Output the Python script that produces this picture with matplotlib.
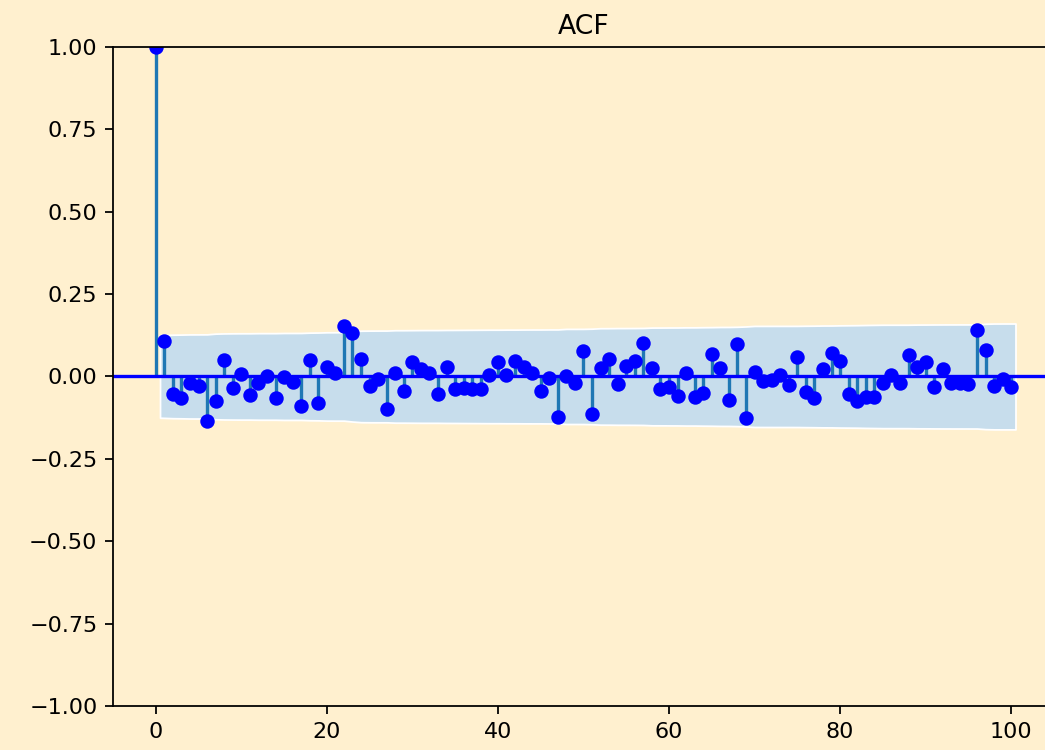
import numpy as np
import matplotlib
matplotlib.use("Agg")
import matplotlib.pyplot as plt

# autocorrelation values, lags 0..100
lags = np.arange(101)
acf_vals = np.array([
    1.000, 0.109, -0.054, -0.066, -0.021, -0.029, -0.134, -0.073, 0.050, -0.034,
    0.008, -0.056, -0.020, 0.000, -0.066, -0.003, -0.018, -0.090, 0.050, -0.081,
    0.030, 0.012, 0.153, 0.131, 0.052, -0.028, -0.009, -0.098, 0.012, -0.043,
    0.045, 0.023, 0.012, -0.053, 0.030, -0.039, -0.036, -0.039, -0.039, 0.005,
    0.045, 0.005, 0.047, 0.030, 0.010, -0.043, -0.005, -0.124, 0.000, -0.019,
    0.076, -0.114, 0.025, 0.053, -0.023, 0.033, 0.048, 0.103, 0.027, -0.039,
    -0.033, -0.059, 0.012, -0.061, -0.049, 0.067, 0.025, -0.071, 0.099, -0.125,
    0.015, -0.013, -0.011, 0.005, -0.026, 0.060, -0.048, -0.066, 0.022, 0.070,
    0.048, -0.054, -0.073, -0.061, -0.061, -0.021, 0.005, -0.021, 0.065, 0.030,
    0.045, -0.033, 0.023, -0.021, -0.021, -0.024, 0.141, 0.080, -0.029, -0.008,
    -0.033,
])
nobs = 245
xticks = [0, 20, 40, 60, 80, 100]
yticks = [-1.0, -0.75, -0.5, -0.25, 0.0, 0.25, 0.5, 0.75, 1.0]

# Bartlett band, same as statsmodels plot_acf
varacf = np.ones(len(acf_vals)) / nobs
varacf[0] = 0
varacf[2:] *= 1 + 2 * np.cumsum(acf_vals[1:-1] ** 2)
band = 1.96 * np.sqrt(varacf)

bg = "#fff0cf"
dpi = 160
fig = plt.figure(figsize=(1045 / dpi, 750 / dpi), dpi=dpi, facecolor=bg)
ax = fig.add_axes([0.1081, 0.0587, 0.9005, 0.8787], facecolor=bg)

ax.vlines(lags, [0], acf_vals, color="#1f77b4")
ax.axhline(0, color="blue")
ax.plot(lags, acf_vals, marker="o", markersize=5.5, linestyle="None", color="blue")

band_lags = lags[1:].astype(float)
band_lags[0] -= 0.5
band_lags[-1] += 0.5
ax.fill_between(band_lags, -band[1:], band[1:], facecolor="#c7ddec",
                edgecolor="white", linewidth=0.8)

ax.set_xlim(-5, 105)
ax.set_ylim(-1, 1)
ax.set_xticks(xticks)
ax.set_yticks(yticks)
ax.set_title("ACF")

fig.savefig("out.png", dpi=dpi, facecolor=bg)
